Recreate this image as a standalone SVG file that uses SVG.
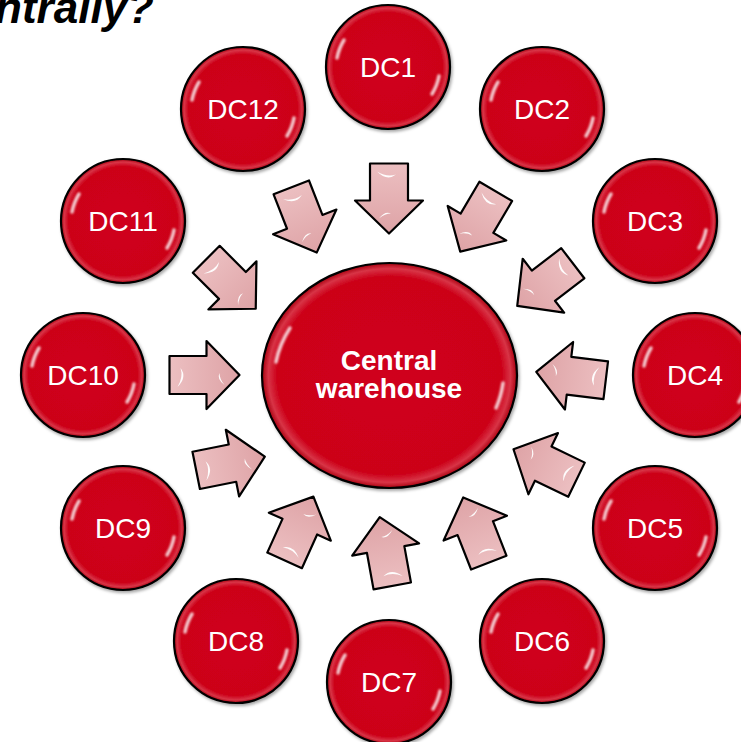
<svg xmlns="http://www.w3.org/2000/svg" xmlns:xlink="http://www.w3.org/1999/xlink" width="741" height="742" viewBox="0 0 741 742">
<style>
.lbl{font-family:"Liberation Sans",Arial,sans-serif;font-size:28px;fill:#fff;text-anchor:middle}
.ctr{font-family:"Liberation Sans",Arial,sans-serif;font-size:28px;font-weight:bold;fill:#fff;text-anchor:middle}
.title{font-family:"Liberation Sans",Arial,sans-serif;font-size:44px;font-weight:bold;font-style:italic;fill:#000;text-anchor:end}
.arr{fill:url(#pink);stroke:#000;stroke-width:2.2;stroke-linejoin:round}
.gl{fill:#fff;opacity:0.95}
.hl{fill:none;stroke:#fff;stroke-width:3.5;stroke-linecap:round;opacity:0.8}
</style>
<defs>
<radialGradient id="red" cx="0.5" cy="0.5" r="0.5">
<stop offset="0" stop-color="#d0021b"/>
<stop offset="0.88" stop-color="#cc0019"/>
<stop offset="0.95" stop-color="#d83446"/>
<stop offset="1" stop-color="#a8000f"/>
</radialGradient>
<linearGradient id="pink" x1="0" y1="0" x2="0" y2="1">
<stop offset="0" stop-color="#ecbfc1"/>
<stop offset="1" stop-color="#dea3a6"/>
</linearGradient>
<filter id="sh" x="-20%" y="-20%" width="140%" height="140%">
<feDropShadow dx="1.5" dy="2" stdDeviation="1.5" flood-color="#000" flood-opacity="0.35"/>
</filter>
<filter id="soft" x="-50%" y="-50%" width="200%" height="200%">
<feGaussianBlur stdDeviation="0.8"/>
</filter>
<g id="ball">
<circle r="62" fill="url(#red)" stroke="#000" stroke-width="2.2" filter="url(#sh)"/>
<path class="hl" filter="url(#soft)" d="M -51 -9 A 52 52 0 0 1 -44 -27"/>
<path class="hl" filter="url(#soft)" d="M 51 9 A 52 52 0 0 1 44 27"/>
</g>
<g id="arrow">
<path class="arr" d="M -19 -35 L 19 -35 L 19 2 L 34 2 L 0 35 L -34 2 L -19 2 Z"/>
<path class="gl" d="M -12 -27 Q -2 -17 7 -24 Q -2 -21 -12 -27 Z"/>
<path class="gl" d="M -10 20 Q -4 12 2 15 Q -4 15 -10 20 Z"/>
</g>
</defs>
<rect width="741" height="742" fill="#fff"/>
<text class="title" x="154" y="23">ntrally?</text>
<g id="connectors">
<use xlink:href="#arrow" href="#arrow" transform="translate(389,198.5) rotate(0)"/>
<use xlink:href="#arrow" href="#arrow" transform="translate(478,221.5) rotate(30.5)"/>
<use xlink:href="#arrow" href="#arrow" transform="translate(545,284.5) rotate(52.5)"/>
<use xlink:href="#arrow" href="#arrow" transform="translate(571,376) rotate(96.9)"/>
<use xlink:href="#arrow" href="#arrow" transform="translate(545,464.5) rotate(115.8)"/>
<use xlink:href="#arrow" href="#arrow" transform="translate(476,530) rotate(158.6)"/>
<use xlink:href="#arrow" href="#arrow" transform="translate(386,551.5) rotate(169.7)"/>
<use xlink:href="#arrow" href="#arrow" transform="translate(299,528.5) rotate(-155.7)"/>
<use xlink:href="#arrow" href="#arrow" transform="translate(230.5,463.5) rotate(-101.3)"/>
<use xlink:href="#arrow" href="#arrow" transform="translate(204.5,375) rotate(-90)"/>
<use xlink:href="#arrow" href="#arrow" transform="translate(231,284) rotate(-45)"/>
<use xlink:href="#arrow" href="#arrow" transform="translate(304,220) rotate(-21.3)"/>
</g>
<g id="central">
<ellipse cx="389.5" cy="375.5" rx="127.5" ry="112.5" fill="url(#red)" stroke="#000" stroke-width="2.2" filter="url(#sh)"/>
<path class="hl" filter="url(#soft)" d="M 276 362 A 118 104 0 0 1 290 328"/>
<path class="hl" filter="url(#soft)" d="M 503 383 A 118 104 0 0 1 496 408"/>
<text class="ctr" x="389" y="370">Central</text>
<text class="ctr" x="389" y="398">warehouse</text>
</g>
<g id="dc1" transform="translate(388,67)"><use xlink:href="#ball" href="#ball"/><text class="lbl" y="10">DC1</text></g>
<g id="dc2" transform="translate(542,109)"><use xlink:href="#ball" href="#ball"/><text class="lbl" y="10">DC2</text></g>
<g id="dc3" transform="translate(655,221)"><use xlink:href="#ball" href="#ball"/><text class="lbl" y="10">DC3</text></g>
<g id="dc4" transform="translate(695,375)"><use xlink:href="#ball" href="#ball"/><text class="lbl" y="10">DC4</text></g>
<g id="dc5" transform="translate(655,528)"><use xlink:href="#ball" href="#ball"/><text class="lbl" y="10">DC5</text></g>
<g id="dc6" transform="translate(542,641)"><use xlink:href="#ball" href="#ball"/><text class="lbl" y="10">DC6</text></g>
<g id="dc7" transform="translate(389,682)"><use xlink:href="#ball" href="#ball"/><text class="lbl" y="10">DC7</text></g>
<g id="dc8" transform="translate(236,641)"><use xlink:href="#ball" href="#ball"/><text class="lbl" y="10">DC8</text></g>
<g id="dc9" transform="translate(123,528)"><use xlink:href="#ball" href="#ball"/><text class="lbl" y="10">DC9</text></g>
<g id="dc10" transform="translate(83,375)"><use xlink:href="#ball" href="#ball"/><text class="lbl" y="10">DC10</text></g>
<g id="dc11" transform="translate(123,221)"><use xlink:href="#ball" href="#ball"/><text class="lbl" y="10">DC11</text></g>
<g id="dc12" transform="translate(243,109)"><use xlink:href="#ball" href="#ball"/><text class="lbl" y="10">DC12</text></g>
</svg>
